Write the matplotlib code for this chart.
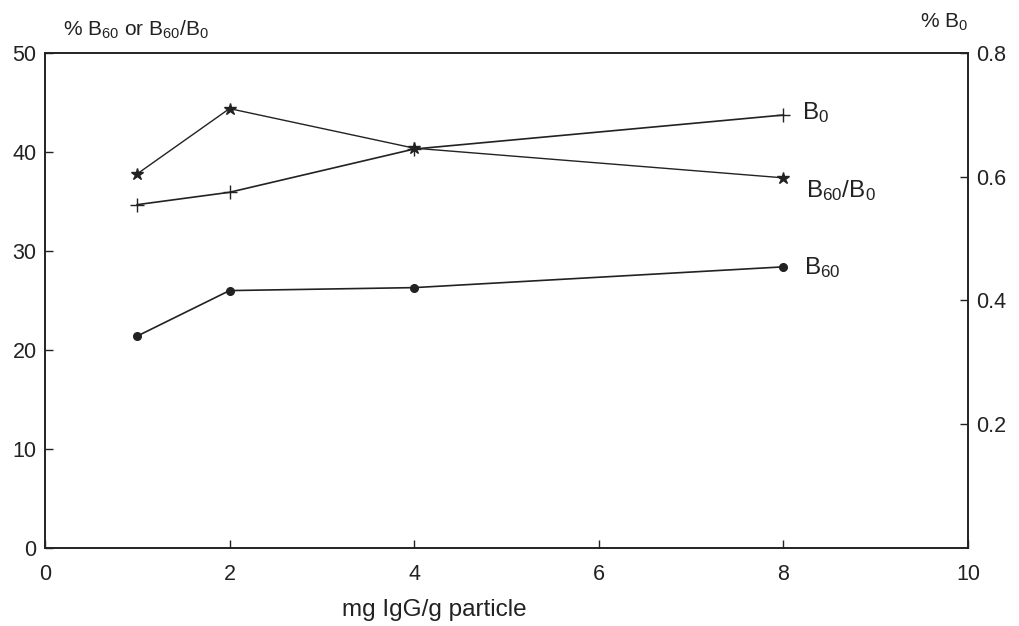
import matplotlib
matplotlib.use("Agg")
import matplotlib.pyplot as plt

plt.rcParams['font.family'] = ['Liberation Sans', 'DejaVu Sans']
plt.rcParams['mathtext.fontset'] = 'custom'
plt.rcParams['mathtext.rm'] = 'Liberation Sans'
plt.rcParams['mathtext.it'] = 'Liberation Sans'

x_vals = [1, 2, 4, 8]
b60 = [21.4, 26.0, 26.3, 28.4]          # % B60 (left axis)
b60_b0 = [37.8, 44.4, 40.4, 37.4]       # B60/B0 (left axis)
b0 = [0.555, 0.575, 0.645, 0.700]       # % B0 (right axis)

x_ticks = [0, 2, 4, 6, 8, 10]
left_ticks = [0, 10, 20, 30, 40, 50]
right_ticks = [0.2, 0.4, 0.6, 0.8]

col = '#222222'
fig = plt.figure(figsize=(10.2, 6.26), dpi=100)
ax = fig.add_axes([0.044, 0.125, 0.905, 0.79])
ax2 = ax.twinx()

ax.plot(x_vals, b60_b0, color=col, lw=1.0, marker='*', ms=9, mfc=col, mec=col)
ax.plot(x_vals, b60, color=col, lw=1.2, marker='o', ms=5.5, mfc=col, mec=col)
ax2.plot(x_vals, b0, color=col, lw=1.2, marker='+', ms=10, mew=1.0)

ax.set_xlim(0, 10)
ax.set_ylim(0, 50)
ax2.set_ylim(0, 0.8)
ax.set_xticks(x_ticks)
ax.set_yticks(left_ticks)
ax2.set_yticks(right_ticks)
ax2.set_yticklabels(['0.2', '0.4', '0.6', '0.8'])

for a in (ax, ax2):
    for s in a.spines.values():
        s.set_linewidth(1.2)
        s.set_color(col)
ax.tick_params(axis='both', direction='in', length=6, width=1, labelsize=15.5, colors=col)
ax2.tick_params(axis='y', direction='in', length=6, width=1, labelsize=15.5, colors=col, pad=6)
ax.tick_params(axis='y', pad=6)
ax.tick_params(axis='x', pad=12)

fig.text(434 / 1020, 1 - 610 / 626, 'mg IgG/g particle', fontsize=17.5, color=col,
         ha='center', va='center')

fig.text(63 / 1020, 1 - 30 / 626, r'% B$_{60}$ or B$_{60}$/B$_{0}$', fontsize=15, color=col,
         ha='left', va='center')
fig.text(968 / 1020, 1 - 22 / 626, r'% B$_{0}$', fontsize=15, color=col, ha='right', va='center')

ax.text(8.2, 44.0, r'B$_{0}$', fontsize=17.5, color=col, va='center', ha='left')
ax.text(8.25, 36.1, r'B$_{60}$/B$_{0}$', fontsize=17.5, color=col, va='center', ha='left')
ax.text(8.22, 28.3, r'B$_{60}$', fontsize=17.5, color=col, va='center', ha='left')

fig.savefig('out.png', dpi=100, facecolor='white')
